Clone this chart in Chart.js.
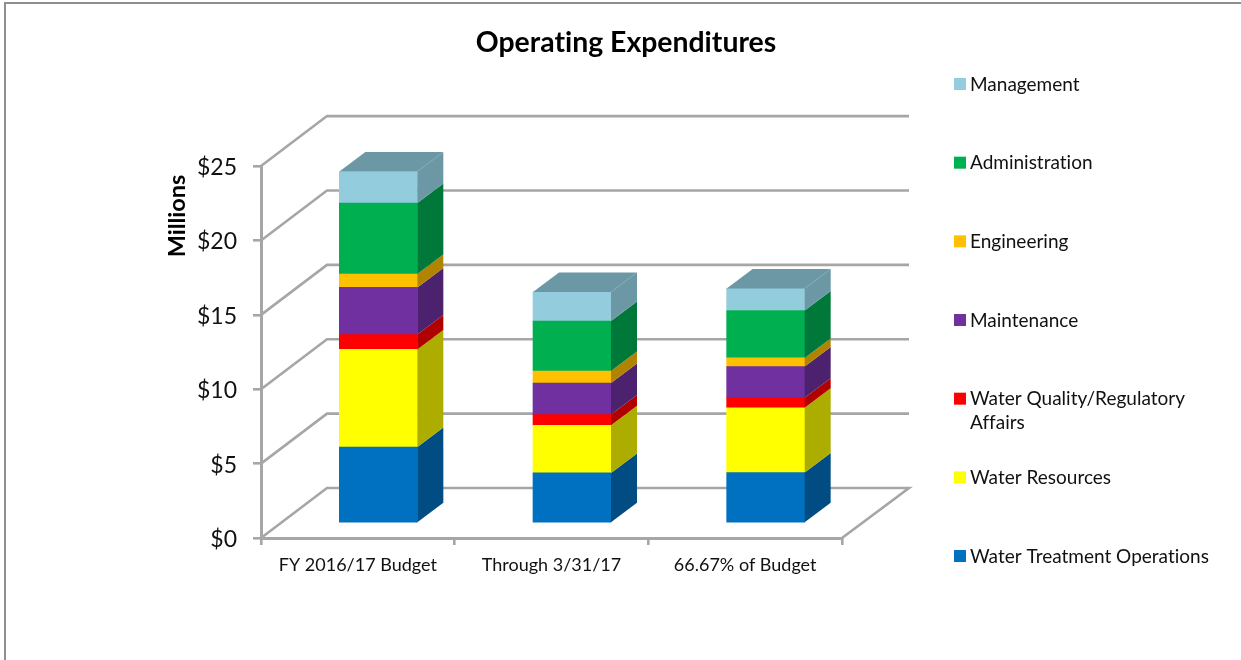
<!DOCTYPE html>
<html>
<head>
<meta charset="utf-8">
<title>Operating Expenditures</title>
<script src="https://cdn.jsdelivr.net/npm/chart.js@4"></script>
<style>
  html, body { margin: 0; padding: 0; background: #fff; }
  canvas { display: block; }
</style>
</head>
<body>
<canvas id="myChart" width="1241" height="660"></canvas>
<script>
// values in $ millions
const categories = ["FY 2016/17 Budget", "Through 3/31/17", "66.67% of Budget"];
const waterTreatment = [5.14, 3.40, 3.42];
const waterResources = [6.56, 3.20, 4.36];
const waterQuality = [1.00, 0.72, 0.67];
const maintenance = [3.17, 2.12, 2.10];
const engineering = [0.90, 0.81, 0.58];
const administration = [4.77, 3.36, 3.19];
const management = [2.12, 1.95, 1.48];

const seriesNames = ["Water Treatment Operations", "Water Resources", "Water Quality/Regulatory Affairs",
  "Maintenance", "Engineering", "Administration", "Management"];
const seriesValues = [waterTreatment, waterResources, waterQuality, maintenance, engineering, administration, management];
const frontColors = ["#0070C0", "#FFFF00", "#FF0000", "#7030A0", "#FFC000", "#00B050", "#93CDDD"];
const sideColors = ["#004C83", "#ADAD00", "#B00000", "#4C216D", "#B08400", "#007839", "#6C98A6"];
const topColor = "#6C98A6";

const FONT = "Lato, Carlito, Calibri, sans-serif";
const GREY = "#a6a6a6";

// 3d look: wall depth and where the bars sit inside it
const wallDx = 66, wallDy = -50;
const barDx = 20.5, barDy = -14.5;
const faceDx = 26, faceDy = -19.5;

function poly(ctx, pts, color) {
  ctx.fillStyle = color;
  ctx.beginPath();
  ctx.moveTo(pts[0][0], pts[0][1]);
  for (let i = 1; i < pts.length; i++) ctx.lineTo(pts[i][0], pts[i][1]);
  ctx.closePath();
  ctx.fill();
}

const wallsAndBars = {
  id: "wallsAndBars",
  afterLayout(chart) {
    // title is centred a little right of the canvas middle
    chart.titleBlock.left = 11;
    chart.titleBlock.right = 1241;
  },
  beforeDraw(chart) {
    // no "ti" ligature in the reference
    chart.ctx.textRendering = "optimizeSpeed";
  },
  beforeDatasetsDraw(chart) {
    const ctx = chart.ctx, y = chart.scales.y, a = chart.chartArea;
    ctx.save();
    ctx.strokeStyle = GREY;
    ctx.lineWidth = 2.6;
    y.ticks.forEach(function (t) {
      const py = y.getPixelForValue(t.value);
      ctx.beginPath();
      ctx.moveTo(a.left, py);
      ctx.lineTo(a.left + wallDx, py + wallDy);
      ctx.lineTo(a.right + wallDx + 1, py + wallDy);
      if (t.value === 0) {
        ctx.lineTo(a.right, py);
      }
      ctx.stroke();
    });
    ctx.restore();
    ctx.save();
    ctx.translate(barDx, barDy);
  },
  afterDatasetsDraw(chart) {
    const ctx = chart.ctx;
    chart.data.datasets.forEach(function (ds, i) {
      chart.getDatasetMeta(i).data.forEach(function (bar) {
        const right = bar.x + bar.width / 2, left = bar.x - bar.width / 2;
        poly(ctx, [[right, bar.base], [right + faceDx, bar.base + faceDy],
          [right + faceDx, bar.y + faceDy], [right, bar.y]], sideColors[i]);
        if (i === chart.data.datasets.length - 1) {
          poly(ctx, [[left, bar.y], [left + faceDx, bar.y + faceDy],
            [right + faceDx, bar.y + faceDy], [right, bar.y]], topColor);
        }
      });
    });
    ctx.restore();
  },
  afterDraw(chart) {
    const ctx = chart.ctx;
    ctx.save();
    // frame of the screenshot
    ctx.strokeStyle = "#8f8f8f";
    ctx.lineWidth = 2;
    ctx.beginPath();
    ctx.moveTo(5, 660);
    ctx.lineTo(5, 3);
    ctx.lineTo(1241, 3);
    ctx.stroke();

    // axis title sits high on the axis
    ctx.fillStyle = "#000";
    ctx.font = "bold 23.5px " + FONT;
    ctx.textAlign = "center";
    ctx.textBaseline = "middle";
    ctx.translate(177, 216);
    ctx.rotate(-Math.PI / 2);
    ctx.fillText("Millions", 0, 0);
    ctx.restore();

    // legend, top series first, evenly spaced by first line
    ctx.save();
    ctx.font = "19px " + FONT;
    ctx.textBaseline = "middle";
    ctx.textAlign = "left";
    const ds = chart.data.datasets;
    for (let i = 0; i < ds.length; i++) {
      const row = ds.length - 1 - i;
      const cy = 84 + row * 78.67;
      ctx.fillStyle = ds[i].backgroundColor;
      ctx.fillRect(954, cy - 6, 12, 12);
      ctx.fillStyle = "#111";
      const words = ds[i].label.split(" ");
      let line = "", ly = cy + 0.5;
      words.forEach(function (w) {
        const next = line ? line + " " + w : w;
        if (ctx.measureText(next).width > 245 && line) {
          ctx.fillText(line, 970, ly);
          line = w;
          ly += 24;
        } else {
          line = next;
        }
      });
      ctx.fillText(line, 970, ly);
    }
    ctx.restore();
  }
};

const datasets = [];
for (let i = 0; i < seriesNames.length; i++) {
  datasets.push({
    label: seriesNames[i],
    data: seriesValues[i],
    backgroundColor: frontColors[i],
    barThickness: 78,
    borderWidth: 0
  });
}

new Chart(document.getElementById("myChart"), {
  type: "bar",
  data: { labels: categories, datasets: datasets },
  plugins: [wallsAndBars],
  options: {
    responsive: false,
    animation: false,
    layout: { padding: { left: 0, right: 399, top: 0, bottom: 0 } },
    plugins: {
      legend: { display: false },
      tooltip: { enabled: false },
      title: {
        display: true,
        text: "Operating Expenditures",
        color: "#000",
        font: { family: FONT, size: 28.4, weight: "bold" },
        padding: { top: 26, bottom: 106 }
      }
    },
    scales: {
      x: {
        stacked: true,
        afterFit(s) { s.height = 122; },
        grid: { drawOnChartArea: false, color: GREY, lineWidth: 2.6, tickLength: 7 },
        border: { color: GREY, width: 3 },
        ticks: { color: "#111", font: { family: FONT, size: 18 }, padding: 9, maxRotation: 0 }
      },
      y: {
        stacked: true,
        min: 0,
        max: 25,
        afterFit(s) { s.width = 261; },
        grid: { drawOnChartArea: false, color: GREY, lineWidth: 2.6, tickLength: 8 },
        border: { color: GREY, width: 3 },
        ticks: {
          stepSize: 5,
          color: "#111",
          font: { family: FONT, size: 23 },
          padding: 16,
          labelOffset: 1.5,
          callback: function (v) { return "$" + v; }
        }
      }
    }
  }
});
</script>
</body>
</html>
